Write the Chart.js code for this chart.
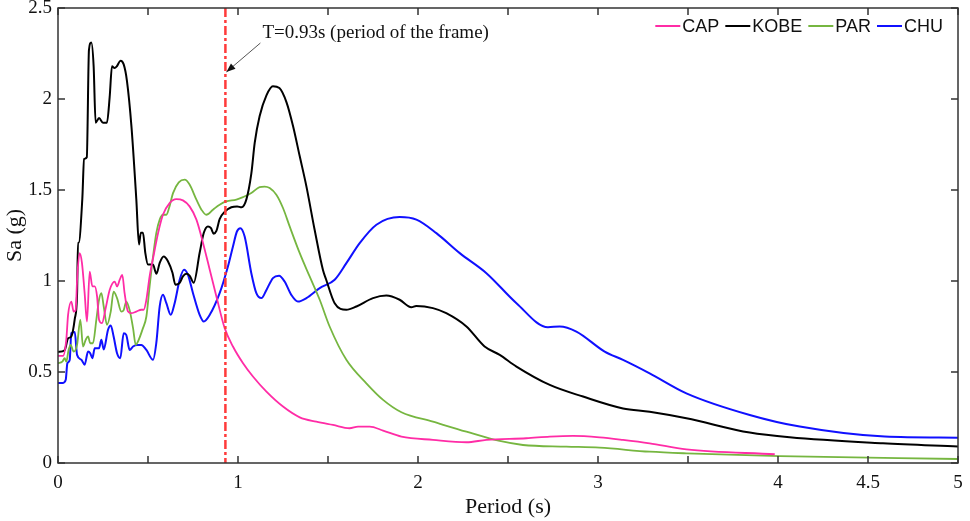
<!DOCTYPE html>
<html>
<head>
<meta charset="utf-8">
<script src="https://cdn.jsdelivr.net/npm/chart.js@4/dist/chart.umd.min.js"></script>
<style>
  html, body { margin: 0; padding: 0; background: #fff; }
  #wrap { width: 970px; height: 521px; }
</style>
</head>
<body>
<div id="wrap"><canvas id="c" width="970" height="521"></canvas></div>
<script>
// ---------------- DATA ----------------
const framePeriod = 0.93;
const annotationText = 'T=0.93s (period of the frame)';
const xTickLabels = [0, 1, 2, 3, 4, 4.5, 5];

const capPeriod = [0,0.028,0.046,0.056,0.074,0.087,0.098,0.107,0.12,0.133,0.148,0.161,0.176,0.191,0.204,0.217,0.228,0.244,0.265,0.287,0.315,0.328,0.343,0.357,0.37,0.389,0.407,0.435,0.463,0.476,0.491,0.509,0.532,0.556,0.583,0.62,0.657,0.694,0.731,0.769,0.806,0.843,0.88,0.926,0.972,1.028,1.083,1.158,1.25,1.343,1.435,1.528,1.62,1.667,1.732,1.806,1.908,2.083,2.269,2.38,2.602,2.732,2.861,3.009,3.139,3.287,3.491,3.982];
const capSa = [0.589,0.589,0.677,0.814,0.887,0.832,0.84,1.025,1.153,1.1,0.933,0.777,1.052,0.97,0.97,0.915,0.787,0.768,0.851,0.951,0.997,0.97,1.007,1.034,0.933,0.832,0.823,0.832,0.842,0.842,0.897,1.025,1.144,1.263,1.364,1.428,1.45,1.443,1.41,1.337,1.208,1.062,0.915,0.741,0.64,0.548,0.475,0.392,0.31,0.251,0.227,0.209,0.191,0.2,0.2,0.178,0.145,0.127,0.114,0.127,0.136,0.145,0.149,0.141,0.127,0.108,0.075,0.048];

const kobePeriod = [0,0.037,0.056,0.074,0.093,0.106,0.111,0.115,0.135,0.145,0.16,0.172,0.185,0.198,0.209,0.228,0.25,0.272,0.287,0.3,0.314,0.327,0.347,0.365,0.383,0.408,0.435,0.45,0.46,0.472,0.485,0.5,0.527,0.547,0.565,0.587,0.61,0.636,0.652,0.676,0.694,0.713,0.731,0.754,0.787,0.81,0.833,0.85,0.865,0.88,0.898,0.926,0.963,0.995,1.02,1.047,1.074,1.093,1.12,1.158,1.194,1.23,1.27,1.306,1.343,1.38,1.426,1.472,1.49,1.537,1.602,1.658,1.75,1.824,1.898,1.963,1.99,2.083,2.157,2.269,2.37,2.454,2.547,2.732,2.917,3.139,3.287,3.491,3.843,4.065,4.583,5.0];
const kobeSa = [0.61,0.62,0.685,0.695,0.79,0.93,1.21,1.21,1.45,1.67,1.68,2.27,2.31,2.18,1.87,1.895,1.87,1.87,2.01,2.18,2.17,2.18,2.21,2.19,2.1,1.85,1.45,1.2,1.265,1.265,1.155,1.09,1.09,1.04,1.1,1.135,1.11,1.045,0.98,0.99,1.025,1.04,1.03,0.99,1.155,1.265,1.3,1.29,1.26,1.275,1.34,1.38,1.405,1.41,1.405,1.45,1.59,1.76,1.905,2.02,2.07,2.06,1.98,1.85,1.685,1.52,1.28,1.06,1.007,0.878,0.842,0.86,0.906,0.92,0.897,0.856,0.863,0.851,0.823,0.75,0.64,0.594,0.53,0.429,0.365,0.3,0.282,0.246,0.167,0.141,0.108,0.09];

const parPeriod = [0,0.024,0.037,0.046,0.059,0.07,0.087,0.106,0.124,0.139,0.154,0.167,0.179,0.194,0.213,0.228,0.241,0.254,0.272,0.293,0.309,0.328,0.352,0.365,0.379,0.398,0.417,0.432,0.444,0.472,0.491,0.509,0.528,0.546,0.565,0.583,0.602,0.617,0.639,0.671,0.704,0.731,0.769,0.797,0.824,0.861,0.898,0.935,0.991,1.028,1.074,1.12,1.148,1.176,1.213,1.25,1.287,1.343,1.398,1.454,1.509,1.602,1.713,1.806,1.908,2.083,2.269,2.454,2.583,2.824,3.009,3.287,3.491,4.01,5.0];
const parSa = [0.548,0.557,0.576,0.557,0.622,0.649,0.612,0.649,0.787,0.64,0.677,0.695,0.658,0.658,0.787,0.897,0.933,0.86,0.759,0.832,0.942,0.906,0.832,0.84,0.887,0.84,0.741,0.649,0.667,0.741,0.805,0.97,1.135,1.263,1.337,1.364,1.364,1.401,1.483,1.542,1.557,1.53,1.447,1.392,1.364,1.392,1.419,1.437,1.447,1.461,1.483,1.516,1.519,1.511,1.474,1.401,1.3,1.153,1.025,0.897,0.75,0.567,0.438,0.347,0.279,0.227,0.172,0.121,0.099,0.09,0.084,0.062,0.053,0.038,0.022];

const chuPeriod = [0,0.028,0.043,0.052,0.065,0.074,0.093,0.106,0.13,0.148,0.167,0.179,0.191,0.204,0.228,0.241,0.254,0.278,0.293,0.309,0.328,0.346,0.365,0.379,0.398,0.417,0.439,0.463,0.491,0.528,0.546,0.565,0.583,0.602,0.626,0.648,0.676,0.7,0.722,0.75,0.787,0.81,0.843,0.898,0.944,0.972,0.994,1.013,1.037,1.074,1.102,1.13,1.158,1.194,1.228,1.259,1.296,1.333,1.38,1.454,1.537,1.602,1.676,1.769,1.898,1.991,2.102,2.232,2.38,2.547,2.722,2.787,2.88,3.037,3.139,3.287,3.491,3.843,4.121,4.593,5.0];
const chuSa = [0.44,0.44,0.457,0.548,0.566,0.713,0.72,0.594,0.567,0.54,0.612,0.603,0.576,0.63,0.63,0.677,0.624,0.732,0.755,0.695,0.603,0.576,0.713,0.704,0.621,0.64,0.649,0.649,0.621,0.567,0.658,0.86,0.924,0.878,0.814,0.878,1.007,1.062,1.034,0.933,0.814,0.777,0.814,0.933,1.08,1.19,1.272,1.29,1.244,1.043,0.933,0.906,0.951,1.016,1.029,0.997,0.924,0.887,0.906,0.961,1.007,1.098,1.208,1.309,1.351,1.337,1.263,1.153,1.043,0.878,0.746,0.75,0.722,0.612,0.567,0.493,0.383,0.264,0.2,0.145,0.139];

// ---------------- BUILD ----------------
const toPts = (xs, ys) => xs.map((v, i) => ({ x: v, y: ys[i] }));
const serif = "'Liberation Serif', 'Times New Roman', serif";
const sans = "'Liberation Sans', Arial, sans-serif";

function mkSet(label, xs, ys, color, w) {
  return {
    label, data: toPts(xs, ys), borderColor: color, backgroundColor: color,
    borderWidth: w, pointRadius: 0, fill: false,
    cubicInterpolationMode: 'monotone', tension: 0.4
  };
}

const overlay = {
  id: 'overlay',
  afterDatasetsDraw(chart) {
    const { ctx, chartArea: a, scales: { x, y } } = chart;
    ctx.save();
    // period-of-frame line
    const px = x.getPixelForValue(framePeriod);
    ctx.strokeStyle = '#ff3b3b';
    ctx.lineWidth = 2.5;
    ctx.setLineDash([9, 3, 3, 3]);
    ctx.beginPath(); ctx.moveTo(px, a.top); ctx.lineTo(px, a.bottom); ctx.stroke();
    ctx.setLineDash([]);

    // frame box
    ctx.strokeStyle = '#333';
    ctx.lineWidth = 1.5;
    ctx.strokeRect(a.left, a.top, a.right - a.left, a.bottom - a.top);
    // inward ticks on all four sides
    const tl = 7;
    ctx.beginPath();
    x.ticks.forEach(t => {
      const p = x.getPixelForValue(t.value);
      ctx.moveTo(p, a.bottom); ctx.lineTo(p, a.bottom - tl);
      ctx.moveTo(p, a.top); ctx.lineTo(p, a.top + tl);
    });
    y.ticks.forEach(t => {
      const p = y.getPixelForValue(t.value);
      ctx.moveTo(a.left, p); ctx.lineTo(a.left + tl, p);
      ctx.moveTo(a.right, p); ctx.lineTo(a.right - tl, p);
    });
    ctx.stroke();

    // annotation text + arrow
    ctx.fillStyle = '#111';
    ctx.font = '19px ' + serif;
    ctx.textBaseline = 'middle';
    ctx.textAlign = 'left';
    ctx.fillText(annotationText, px + 37, a.top + 25);
    const sx = px + 35, sy = a.top + 35, ex = px + 1, ey = a.top + 64;
    ctx.strokeStyle = '#555';
    ctx.lineWidth = 1;
    ctx.beginPath(); ctx.moveTo(sx, sy); ctx.lineTo(ex, ey); ctx.stroke();
    const ang = Math.atan2(ey - sy, ex - sx);
    const L = 9, W = 3.5;
    ctx.fillStyle = '#111';
    ctx.beginPath();
    ctx.moveTo(ex, ey);
    ctx.lineTo(ex - L * Math.cos(ang) + W * Math.sin(ang), ey - L * Math.sin(ang) - W * Math.cos(ang));
    ctx.lineTo(ex - L * Math.cos(ang) - W * Math.sin(ang), ey - L * Math.sin(ang) + W * Math.cos(ang));
    ctx.closePath(); ctx.fill();

    // legend (top-right, inside plot)
    ctx.font = '18px ' + sans;
    const sets = chart.data.datasets;
    const lineLen = 25, gapLT = 2, gapItem = 6;
    let total = 0;
    const widths = sets.map(s => ctx.measureText(s.label).width);
    widths.forEach((w, i) => { total += lineLen + gapLT + w + (i < widths.length - 1 ? gapItem : 0); });
    let lx = a.right - 15 - total;
    const ly = a.top + 18;
    sets.forEach((s, i) => {
      ctx.strokeStyle = s.borderColor;
      ctx.lineWidth = 2;
      ctx.beginPath(); ctx.moveTo(lx, ly); ctx.lineTo(lx + lineLen, ly); ctx.stroke();
      lx += lineLen + gapLT;
      ctx.fillStyle = '#111';
      ctx.fillText(s.label, lx, ly + 1);
      lx += widths[i] + gapItem;
    });
    ctx.restore();
  }
};

new Chart(document.getElementById('c'), {
  type: 'line',
  data: {
    datasets: [
      mkSet('CAP', capPeriod, capSa, '#ff2ca6', 1.8),
      mkSet('KOBE', kobePeriod, kobeSa, '#000000', 2),
      mkSet('PAR', parPeriod, parSa, '#76b640', 1.8),
      mkSet('CHU', chuPeriod, chuSa, '#1010ff', 2)
    ]
  },
  options: {
    responsive: false,
    animation: false,
    devicePixelRatio: 1,
    layout: { padding: { top: 8, right: 12, left: 0, bottom: 0 } },
    plugins: { legend: { display: false }, tooltip: { enabled: false } },
    scales: {
      x: {
        type: 'linear', min: 0, max: 5,
        grid: { display: false, drawTicks: false }, border: { display: false },
        ticks: {
          stepSize: 0.5, padding: 9, color: '#111', maxRotation: 0,
          font: { family: serif, size: 19 },
          callback: v => xTickLabels.includes(v) ? String(v) : ''
        },
        title: { display: true, text: 'Period (s)', color: '#111',
          font: { family: serif, size: 22, lineHeight: 1 }, padding: { top: 0, bottom: 3 } },
        afterFit: s => { s.height = 58; s.paddingLeft = 0; s.paddingRight = 0; }
      },
      y: {
        type: 'linear', min: 0, max: 2.5,
        grid: { display: false, drawTicks: false }, border: { display: false },
        ticks: { stepSize: 0.5, padding: 6, color: '#111',
          font: { family: serif, size: 19 },
          callback: v => String(v) },
        title: { display: true, text: 'Sa (g)', color: '#111',
          font: { family: serif, size: 22, lineHeight: 1 }, padding: { top: 4, bottom: 0 } },
        afterFit: s => { s.width = 58; s.paddingTop = 0; s.paddingBottom = 0; }
      }
    }
  },
  plugins: [overlay]
});
</script>
</body>
</html>
